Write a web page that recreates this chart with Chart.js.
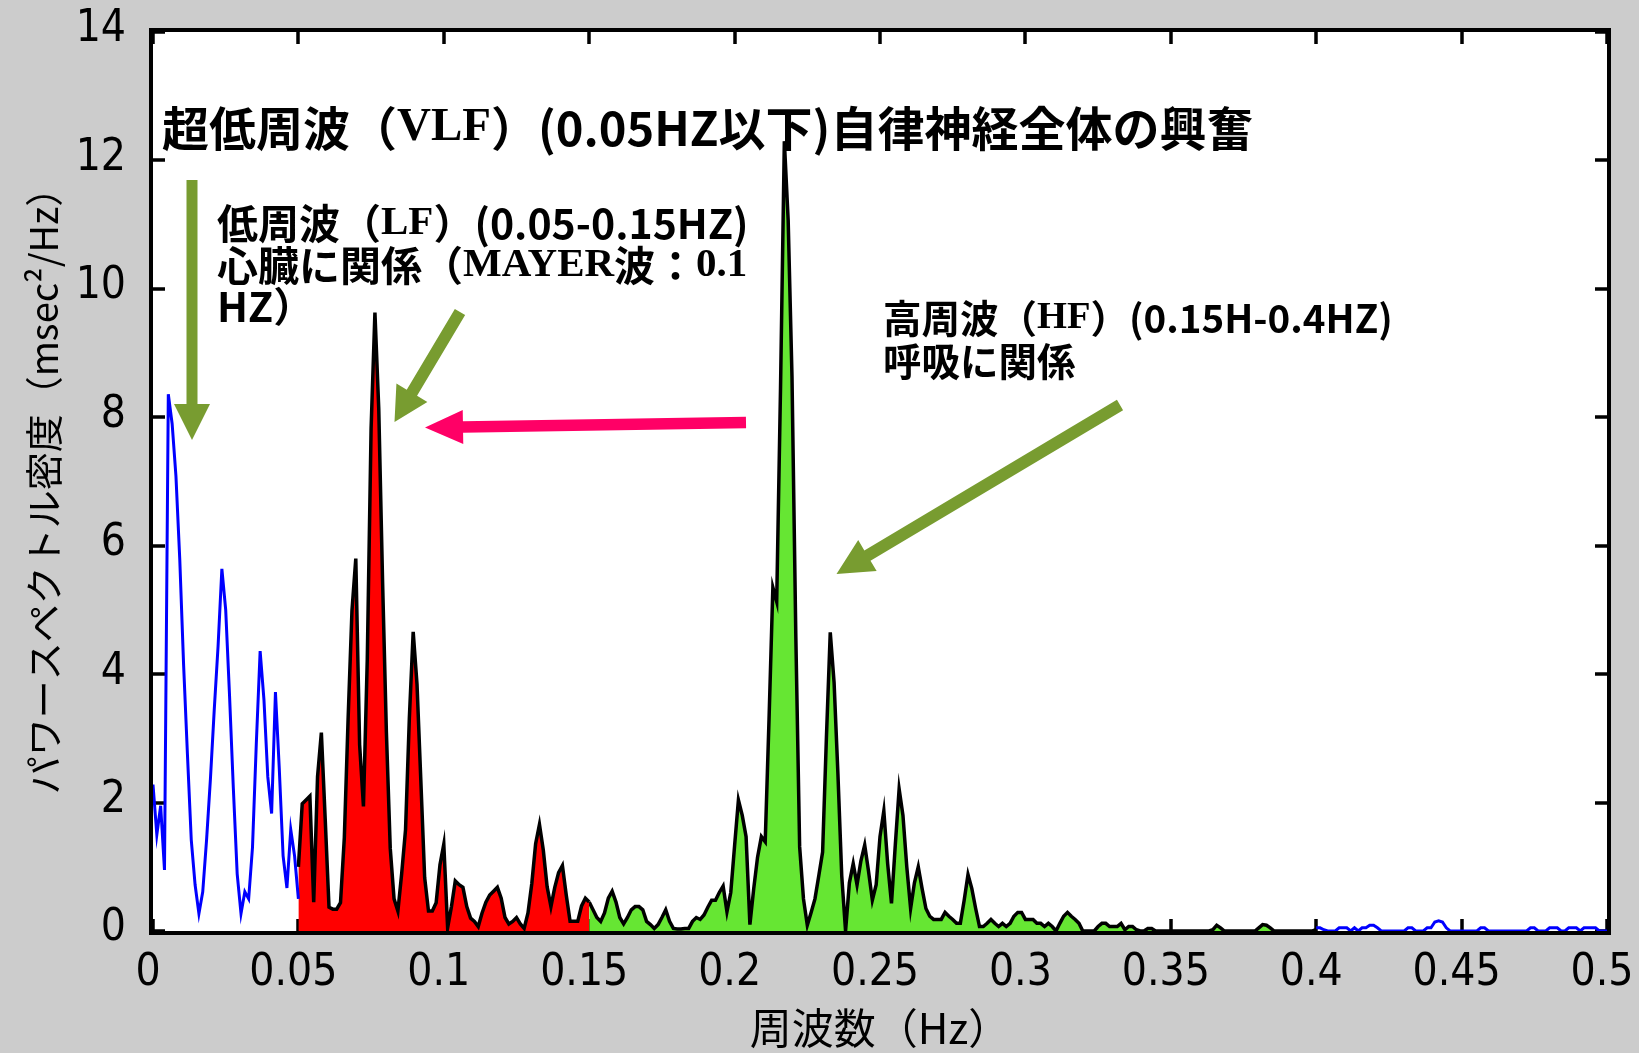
<!DOCTYPE html>
<html>
<head>
<meta charset="utf-8">
<script src="https://cdn.jsdelivr.net/npm/chart.js@4.4.1/dist/chart.umd.min.js"></script>
<style>
html,body{margin:0;padding:0;background:#cccccc;overflow:hidden}
canvas{display:block}
</style>
</head>
<body>
<canvas id="c" width="1639" height="1053"></canvas>
<script>
// ---- frequency grid (Hz per spectral bin) and band start bins ----
const binWidthHz = 1 / 760;
const vlfStartBin = 0;
const lfStartBin = 38;
const hfStartBin = 114;
const tailStartBin = 304;

// ---- power spectral density values (msec^2/Hz) ----
const vlfPower = [
  2.28,1.50,1.95,0.95,8.36,7.90,7.08,5.78,4.14,2.75,
  1.42,0.72,0.27,0.61,1.42,2.36,3.44,4.43,5.64,5.00,
  3.67,2.22,0.89,0.27,0.61,0.50,1.30,2.92,4.36,3.60,
  2.40,1.83,3.72,2.53,1.17,0.67,1.58,1.17,0.50
];
const lfPower = [
  1.00,1.98,2.04,2.10,0.45,2.40,3.09,1.75,0.37,0.34,
  0.34,0.44,1.45,3.32,4.99,5.80,2.90,1.94,4.23,7.83,
  9.63,8.13,5.44,3.09,1.29,0.50,0.31,0.90,1.58,3.32,
  4.66,3.84,2.34,0.83,0.31,0.31,0.44,1.03,1.35,0.05,
  0.38,0.78,0.72,0.68,0.38,0.20,0.15,0.07,0.28,0.45,
  0.56,0.62,0.68,0.51,0.21,0.11,0.15,0.21,0.11,0.04,
  0.28,0.74,1.36,1.66,1.26,0.69,0.38,0.68,0.91,1.02,
  0.56,0.15,0.15,0.15,0.39,0.51,0.45
];
const hfPower = [
  0.45,0.33,0.21,0.15,0.28,0.51,0.62,0.45,0.21,0.11,
  0.21,0.33,0.38,0.38,0.33,0.15,0.10,0.04,0.10,0.21,
  0.33,0.15,0.04,0.03,0.03,0.04,0.04,0.15,0.21,0.18,
  0.25,0.37,0.48,0.48,0.60,0.70,0.30,0.60,1.33,2.04,
  1.80,1.47,0.10,0.66,1.15,1.47,1.39,3.30,5.35,5.13,
  8.45,12.3,11.07,8.63,4.59,1.31,0.50,0.09,0.29,0.50,
  0.86,1.23,3.02,4.65,3.87,2.45,0.86,0.00,0.75,1.05,
  0.72,1.09,1.34,0.93,0.48,0.72,1.47,1.87,1.05,0.43,
  1.34,2.21,1.80,1.00,0.35,0.75,1.00,0.66,0.35,0.23,
  0.18,0.18,0.18,0.29,0.23,0.18,0.12,0.12,0.48,0.88,
  0.66,0.35,0.07,0.07,0.12,0.18,0.12,0.07,0.12,0.07,
  0.12,0.23,0.29,0.29,0.18,0.18,0.18,0.12,0.12,0.07,
  0.12,0.07,0.00,0.12,0.23,0.29,0.23,0.18,0.12,0.00,
  0.00,0.00,0.00,0.07,0.12,0.12,0.07,0.07,0.07,0.12,
  0.02,0.07,0.07,0.02,0.00,0.00,0.04,0.04,0.00,0.00,
  0.00,0.00,0.00,0.00,0.00,0.00,0.00,0.00,0.00,0.00,
  0.00,0.00,0.00,0.02,0.09,0.05,0.00,0.00,0.00,0.00,
  0.00,0.00,0.00,0.00,0.00,0.05,0.10,0.09,0.05,0.00,
  0.00,0.00,0.00,0.00,0.00,0.00,0.00,0.00,0.00,0.00,
  0.02
];
const tailPower = [
  0.05,0.05,0.02,0.00,0.00,0.00,0.05,0.05,0.05,0.00,
  0.05,0.00,0.05,0.05,0.09,0.09,0.05,0.00,0.00,0.00,
  0.00,0.00,0.00,0.00,0.05,0.05,0.00,0.00,0.00,0.05,
  0.05,0.14,0.16,0.14,0.05,0.00,0.00,0.00,0.00,0.00,
  0.00,0.00,0.00,0.05,0.05,0.00,0.00,0.00,0.00,0.00,
  0.00,0.00,0.00,0.00,0.00,0.00,0.05,0.05,0.00,0.00,
  0.00,0.05,0.05,0.05,0.00,0.00,0.05,0.05,0.05,0.00,
  0.05,0.05,0.05,0.05,0.00,0.00,0.00
];

// ---- tick labels ----
const xTickLabels = ['0','0.05','0.1','0.15','0.2','0.25','0.3','0.35','0.4','0.45','0.5'];
const yTickLabels = ['0','2','4','6','8','10','12','14'];
const xTickValues = [0,0.05,0.1,0.15,0.2,0.25,0.3,0.35,0.4,0.45,0.5];
const yTickValues = [0,2,4,6,8,10,12,14];

function toPoints(startBin, values) {
  return values.map((v, i) => ({ x: (startBin + i) * binWidthHz, y: v }));
}

const TICK_FONT = '"Liberation Sans Narrow", "DejaVu Sans Condensed", "Liberation Sans", sans-serif';
const CJK = '"Noto Sans CJK JP", "Noto Sans", sans-serif';
const SERIF = '"Liberation Serif", "DejaVu Serif", serif';

// background: gray page, white plot area
const bgPlugin = {
  id: 'bg',
  beforeDraw(chart) {
    const { ctx, chartArea: a } = chart;
    ctx.save();
    ctx.fillStyle = '#cccccc';
    ctx.fillRect(0, 0, chart.width, chart.height);
    ctx.fillStyle = '#ffffff';
    ctx.fillRect(a.left, a.top, a.right - a.left, a.bottom - a.top);
    ctx.restore();
  }
};

// inward tick marks on all four sides (under the data)
const tickPlugin = {
  id: 'innerTicks',
  beforeDatasetsDraw(chart) {
    const { ctx, chartArea: a, scales } = chart;
    const len = 12;
    ctx.save();
    ctx.strokeStyle = '#000';
    ctx.lineWidth = 3.5;
    ctx.beginPath();
    xTickValues.forEach(v => {
      const px = Math.round(scales.x.getPixelForValue(v));
      ctx.moveTo(px, a.top); ctx.lineTo(px, a.top + len);
      ctx.moveTo(px, a.bottom); ctx.lineTo(px, a.bottom - len);
    });
    yTickValues.forEach(v => {
      const py = Math.round(scales.y.getPixelForValue(v));
      ctx.moveTo(a.left, py); ctx.lineTo(a.left + len, py);
      ctx.moveTo(a.right, py); ctx.lineTo(a.right - len, py);
    });
    ctx.stroke();
    ctx.restore();
  }
};

// thick frame around the plot area
const framePlugin = {
  id: 'frame',
  afterDatasetsDraw(chart) {
    const { ctx, chartArea: a } = chart;
    ctx.save();
    ctx.strokeStyle = '#000';
    ctx.lineWidth = 4;
    ctx.strokeRect(a.left - 2, a.top - 2, a.right - a.left + 4, a.bottom - a.top + 4);
    ctx.restore();
  }
};

function drawRuns(ctx, runs, x, y, size) {
  ctx.textBaseline = 'middle';
  ctx.textAlign = 'left';
  ctx.fillStyle = '#000';
  let cx = x;
  runs.forEach(([text, kind]) => {
    ctx.font = 'bold ' + size + 'px ' + (kind === 's' ? SERIF : CJK);
    ctx.fillText(text, cx, y);
    cx += ctx.measureText(text).width;
  });
}

function drawArrow(ctx, x1, y1, x2, y2, shaftW, headW, headL, color) {
  const dx = x2 - x1, dy = y2 - y1;
  const L = Math.hypot(dx, dy);
  const ux = dx / L, uy = dy / L;
  const nx = -uy, ny = ux;
  const bx = x2 - ux * headL, by = y2 - uy * headL;
  ctx.save();
  ctx.fillStyle = color;
  ctx.beginPath();
  ctx.moveTo(x1 + nx * shaftW / 2, y1 + ny * shaftW / 2);
  ctx.lineTo(bx + nx * shaftW / 2, by + ny * shaftW / 2);
  ctx.lineTo(bx + nx * headW / 2, by + ny * headW / 2);
  ctx.lineTo(x2, y2);
  ctx.lineTo(bx - nx * headW / 2, by - ny * headW / 2);
  ctx.lineTo(bx - nx * shaftW / 2, by - ny * shaftW / 2);
  ctx.lineTo(x1 - nx * shaftW / 2, y1 - ny * shaftW / 2);
  ctx.closePath();
  ctx.fill();
  ctx.restore();
}

const annotationPlugin = {
  id: 'notes',
  afterDraw(chart) {
    const ctx = chart.ctx;
    ctx.save();
    drawRuns(ctx, [['超低周波（', 'j'], ['VLF', 's'], ['）(0.05HZ以下)自律神経全体の興奮', 'j']], 162, 128, 47);
    drawRuns(ctx, [['低周波（', 'j'], ['LF', 's'], ['）(0.05-0.15HZ)', 'j']], 217, 223, 41);
    drawRuns(ctx, [['心臓に関係（', 'j'], ['MAYER', 's'], ['波：', 'j'], ['0.1', 's']], 217, 265, 41);
    drawRuns(ctx, [['HZ）', 'j']], 217, 306, 41);
    drawRuns(ctx, [['高周波（', 'j'], ['HF', 's'], ['）(0.15H-0.4HZ)', 'j']], 883, 318, 38.5);
    drawRuns(ctx, [['呼吸に関係', 'j']], 883, 361, 38.5);

    const olive = '#789c30';
    drawArrow(ctx, 192, 180, 192, 440, 11, 36, 36, olive);
    drawArrow(ctx, 460, 312, 394.5, 422, 12, 36, 34, olive);
    drawArrow(ctx, 746, 422.5, 425, 427.5, 11.5, 34, 38, '#ff0066');
    drawArrow(ctx, 1120, 405, 836.5, 574, 12, 36, 36, olive);
    ctx.restore();
  }
};

const lineBase = { pointRadius: 0, tension: 0, borderJoinStyle: 'miter' };

new Chart(document.getElementById('c').getContext('2d'), {
  type: 'line',
  data: {
    datasets: [
      Object.assign({ label: 'VLF', data: toPoints(vlfStartBin, vlfPower), borderColor: '#0000ff', borderWidth: 3, fill: false }, lineBase),
      Object.assign({ label: 'LF', data: toPoints(lfStartBin, lfPower), borderColor: '#000000', backgroundColor: '#ff0000', borderWidth: 3.5, fill: 'origin' }, lineBase),
      Object.assign({ label: 'HF', data: toPoints(hfStartBin, hfPower), borderColor: '#000000', backgroundColor: '#66e633', borderWidth: 3.5, fill: 'origin' }, lineBase),
      Object.assign({ label: 'over 0.4', data: toPoints(tailStartBin, tailPower), borderColor: '#0000ff', borderWidth: 3, fill: false }, lineBase)
    ]
  },
  options: {
    responsive: false,
    animation: false,
    devicePixelRatio: 1,
    layout: { padding: { top: 32, right: 32, left: 0, bottom: 0 } },
    plugins: { legend: { display: false }, tooltip: { enabled: false } },
    scales: {
      x: {
        type: 'linear', min: 0, max: 0.5,
        grid: { display: false }, border: { display: false },
        afterBuildTicks: (s) => { s.ticks = xTickValues.map(v => ({ value: v })); },
        ticks: {
          autoSkip: false, maxRotation: 0, minRotation: 0, padding: 0, labelOffset: -5,
          color: '#000', font: { family: TICK_FONT, size: 44, lineHeight: 1.55 },
          callback: (v) => xTickLabels[Math.round(v / 0.05)]
        },
        title: { display: true, text: '周波数（Hz）', color: '#000', font: { family: CJK, size: 42 }, padding: { top: 0, bottom: 0 } },
        afterFit: (s) => { s.height = 122; }
      },
      y: {
        min: 0, max: 14,
        grid: { display: false }, border: { display: false },
        afterBuildTicks: (s) => { s.ticks = yTickValues.map(v => ({ value: v })); },
        ticks: {
          padding: 19, labelOffset: -2,
          color: '#000', font: { family: TICK_FONT, size: 44, lineHeight: 0.15 },
          callback: (v) => yTickLabels[Math.round(v / 2)]
        },
        title: { display: true, text: 'パワースペクトル密度（msec²/Hz）', color: '#000', font: { family: CJK, size: 38 }, padding: { top: 21, bottom: 21 } },
        afterFit: (s) => { s.width = 153; }
      }
    }
  },
  plugins: [bgPlugin, tickPlugin, framePlugin, annotationPlugin]
});
</script>
</body>
</html>
